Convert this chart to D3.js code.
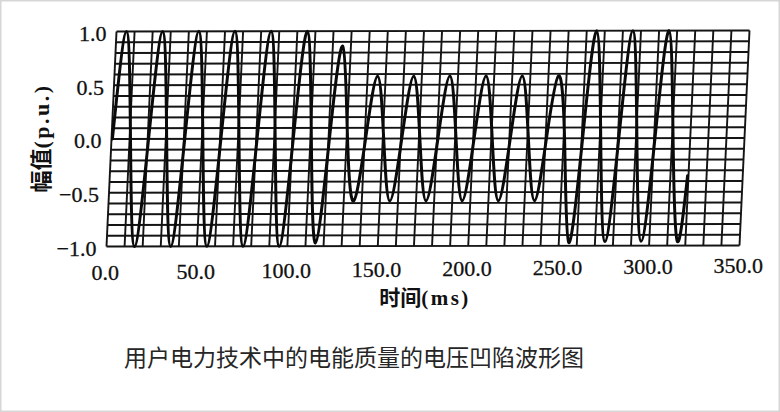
<!DOCTYPE html>
<html><head><meta charset="utf-8">
<script src="https://cdn.jsdelivr.net/npm/d3@7"></script>
<style>html,body{margin:0;padding:0;background:#fff;} svg{display:block;}</style>
</head><body>
<svg id="c" width="780" height="412"></svg>
<script>
// ---- data ----
const xTicks = [0, 50, 100, 150, 200, 250, 300, 350];
const xTickLabels = ["0.0", "50.0", "100.0", "150.0", "200.0", "250.0", "300.0", "350.0"];
const yTicks = [1.0, 0.5, 0.0, -0.5, -1.0];
const yTickLabels = ["1.0", "0.5", "0.0", "\u22120.5", "\u22121.0"];
// waveform samples (ms) : zero crossings and extrema
const times = [0.5,5.5,10.5,15.5,20.5,25.5,30.5,35.5,40.5,45.5,50.5,55.5,60.5,65.5,70.5,75.5,80.5,85.5,90.5,95.5,
  100.5,105.5,110.5,115.5,120.5,125.5,130.5,135.5,140.5,145.5,150.5,155.5,160.5,165.5,170.5,175.5,180.5,185.5,190.5,195.5,
  200.5,205.5,210.5,215.5,220.5,225.5,230.5,235.5,240.5,245.5,250.5,255.5,260.5,265.5,270.5,275.5,280.5,285.5,290.5,295.5,
  300.5,305.5,310.5,315.5,319.5];
const amplitude = [0,1.0,0,-1.0,0,1.0,0,-1.0,0,1.0,0,-1.0,0,1.0,0,-1.0,0,1.0,0,-1.0,
  0,1.0,0,-0.97,0,0.86,0,-0.58,0,0.58,0,-0.58,0,0.58,0,-0.58,0,0.58,0,-0.58,
  0,0.58,0,-0.58,0,0.58,0,-0.58,0,0.58,0,-0.97,0,1.0,0,-0.96,0,1.0,0,-0.96,
  0,1.0,0,-0.96,-0.35];
const xTitleCJK = "时间", xTitleUnit = "(ms)";
const yTitleCJK = "幅值", yTitleUnit = "(p.u.)";
const caption = "用户电力技术中的电能质量的电压凹陷波形图";

// ---- layout ----
const W = 633, H = 215;
const A = {a: 1, b: -1/633, c: -10/215, d: 1, e: 116.5, f: 31.5};
const proj = (px, py) => [A.a*px + A.c*py + A.e, A.b*px + A.d*py + A.f];

const x = d3.scaleLinear().domain([0, 350]).range([0, W]);
const y = d3.scaleLinear().domain([-1, 1]).range([H, 0]);

const svg = d3.select("#c");
svg.append("rect").attr("x", 0.75).attr("y", 0.75).attr("width", 778.5).attr("height", 410.5)
  .attr("fill", "#fff").attr("stroke", "#d6d6d6").attr("stroke-width", 1.5);

const g = svg.append("g")
  .attr("transform", `matrix(${A.a},${A.b},${A.c},${A.d},${A.e},${A.f})`);

g.selectAll("line.v").data(x.ticks(35)).join("line").attr("class", "v")
  .attr("x1", d => x(d)).attr("x2", d => x(d)).attr("y1", 0).attr("y2", H)
  .attr("stroke", "#141414").attr("stroke-width", 1.9);
g.selectAll("line.h").data(y.ticks(20)).join("line").attr("class", "h")
  .attr("x1", 0).attr("x2", W).attr("y1", d => y(d)).attr("y2", d => y(d))
  .attr("stroke", "#141414").attr("stroke-width", 1.9);

const line = d3.line()
  .x((d, i) => x(times[i]))
  .y(d => y(d))
  .curve(d3.curveNatural);
g.append("path").datum(amplitude).attr("d", line)
  .attr("fill", "none").attr("stroke", "#0a0a0a").attr("stroke-width", 3)
  .attr("stroke-linejoin", "round").attr("stroke-linecap", "round");

// ---- tick labels ----
const serif = "'Liberation Serif','Times New Roman',serif";
yTicks.forEach((v, i) => {
  const [px, py] = proj(-10, y(v));
  svg.append("text").attr("x", px).attr("y", py).attr("dy", "0.42em")
    .attr("text-anchor", "end").attr("font-family", serif).attr("font-size", 22)
    .attr("fill", "#111").attr("stroke", "#111").attr("stroke-width", 0.3)
    .text(yTickLabels[i]);
});
xTicks.forEach((t, i) => {
  const [px] = proj(x(t), 240);
  svg.append("text").attr("x", px).attr("y", 280 - t * 0.02)
    .attr("text-anchor", "middle").attr("font-family", serif).attr("font-size", 22)
    .attr("fill", "#111").attr("stroke", "#111").attr("stroke-width", 0.3)
    .text(xTickLabels[i]);
});

// ---- axis titles ----
const cjk = "'Noto Sans CJK SC','Noto Sans CJK JP',sans-serif";
const xt = svg.append("text").attr("x", 425).attr("y", 305).attr("text-anchor", "middle")
  .attr("fill", "#111").attr("font-size", 21);
xt.append("tspan").attr("font-family", cjk).attr("font-weight", 700).text(xTitleCJK);
xt.append("tspan").attr("font-family", serif).attr("font-weight", 700)
  .attr("letter-spacing", 2.5).text(xTitleUnit);

const yt = svg.append("text").attr("transform", "translate(49,138) rotate(-90)")
  .attr("text-anchor", "middle").attr("fill", "#111").attr("font-size", 22);
yt.append("tspan").attr("font-family", cjk).attr("font-weight", 700).text(yTitleCJK);
yt.append("tspan").attr("font-family", serif).attr("font-weight", 700)
  .attr("letter-spacing", 2.5).text(yTitleUnit);

// ---- caption ----
svg.append("text").attr("x", 354).attr("y", 366).attr("text-anchor", "middle")
  .attr("font-family", cjk).attr("font-size", 23).attr("fill", "#262626")
  .text(caption);
</script>
</body></html>
